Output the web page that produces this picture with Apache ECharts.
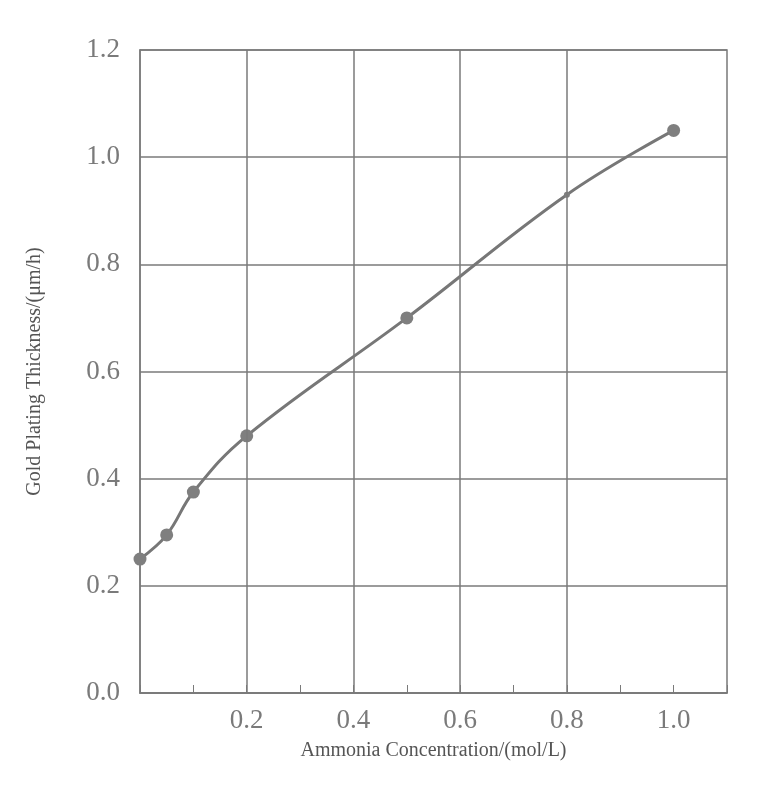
<!DOCTYPE html>
<html><head><meta charset="utf-8">
<script src="https://cdn.jsdelivr.net/npm/echarts@6/dist/echarts.min.js"></script>
<style>html,body{margin:0;background:#fff}#c{width:768px;height:809px}</style>
</head><body><div id="c"></div>
<script>
const xValues=[0,0.05,0.1,0.2,0.5,0.8,1.0];
const yValues=[0.25,0.295,0.375,0.48,0.70,0.93,1.05];
const xGridLines=[0.2,0.4,0.6,0.8];
const xName='Ammonia Concentration/(mol/L)';
const yName='Gold Plating Thickness/(μm/h)';
const c=echarts.init(document.getElementById('c'));
const gray='#7a7a7a';
c.setOption({
 animation:false,
 grid:{left:140,right:41,top:50,bottom:116,show:true,borderColor:gray,borderWidth:1.5},
 xAxis:{type:'value',min:0,max:1.1,interval:0.2,name:xName,nameLocation:'middle',nameGap:48,
  nameTextStyle:{fontFamily:'Liberation Serif',fontSize:20,color:'#555'},
  axisLine:{lineStyle:{color:gray,width:1.5}},
  axisTick:{inside:true,length:8,lineStyle:{color:gray}},
  minorTick:{show:true,splitNumber:2,length:8,lineStyle:{color:gray}},
  splitLine:{show:false},
  axisLabel:{fontFamily:'Liberation Serif',fontSize:27,color:gray,margin:14,showMaxLabel:false,
   formatter:v=>(v===0||v>1.05)?'':v.toFixed(1)}},
 yAxis:{type:'value',min:0,max:1.2,interval:0.2,name:yName,nameLocation:'middle',nameGap:95,
  nameTextStyle:{fontFamily:'Liberation Serif',fontSize:20,color:'#555'},
  axisLine:{show:true,lineStyle:{color:gray,width:1.5}},
  axisTick:{show:false},
  splitLine:{lineStyle:{color:gray,width:1.5}},
  axisLabel:{fontFamily:'Liberation Serif',fontSize:27,color:gray,margin:20,formatter:v=>v.toFixed(1)}},
 series:[{type:'line',smooth:0.4,data:xValues.map((x,i)=>[x,yValues[i]]),
  symbol:'circle',symbolSize:(v,p)=>p.dataIndex===5?6:13,
  lineStyle:{color:'#777',width:3},itemStyle:{color:'#7f7f7f'},
  markLine:{silent:true,symbol:'none',label:{show:false},lineStyle:{color:gray,width:1.5,type:'solid'},
   data:xGridLines.map(x=>({xAxis:x}))}}]
});
</script></body></html>
